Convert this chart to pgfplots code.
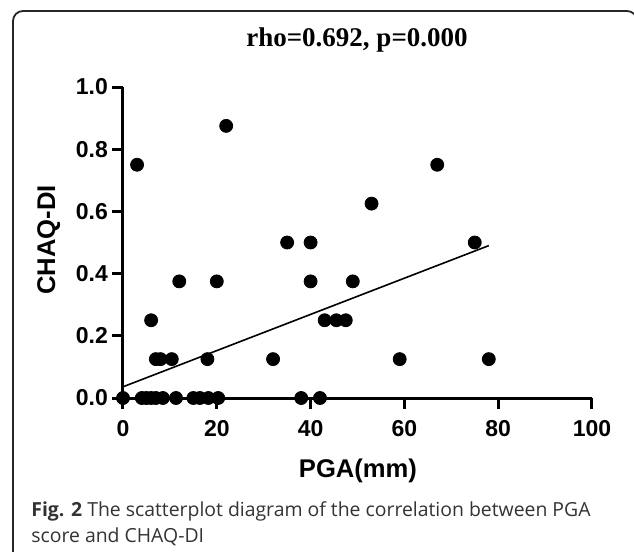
\documentclass[border=0pt]{standalone}
\usepackage{fontspec}
\setmainfont{Liberation Sans}
\newfontfamily\timesfont{Liberation Serif}
\newfontfamily\capfont{Open Sans}
\usepackage{pgfplots}
\pgfplotsset{compat=1.18}
\begin{document}
\begin{tikzpicture}
\path[use as bounding box] (0,0) rectangle (317pt,-276pt);
\draw[line width=0.9pt, black!85, rounded corners=5pt] (6.5pt,-290pt) -- (6.5pt,-5.5pt) -- (318.5pt,-5.5pt) -- (318.5pt,-290pt);
\begin{axis}[
  at={(61.5pt,-199pt)}, anchor=south west,
  scale only axis, width=234.5pt, height=155.5pt,
  xmin=0, xmax=100, ymin=0, ymax=1,
  axis x line*=bottom, axis y line*=left,
  x axis line style={line width=1.5pt, -}, y axis line style={line width=1.5pt, -},
  major tick style={draw=black, line width=1.5pt},
  tick align=outside, major tick length=5pt,
  xtick={0,20,40,60,80,100},
  ytick={0,0.2,0.4,0.6,0.8,1.0},
  /pgf/number format/assume math mode=true,
  xticklabel style={yshift=-2.5pt, font=\bfseries\fontsize{11.5}{13}\selectfont, /pgf/number format/.cd, fixed, precision=0},
  yticklabel style={xshift=1pt, font=\bfseries\fontsize{11.5}{13}\selectfont, /pgf/number format/.cd, fixed, fixed zerofill, precision=1},
  clip=false,
]
\addplot[only marks, mark=*, mark size=3.25pt, black] coordinates {
(0,0) (3,0.75) (22,0.875) (6,0.25)
(7,0.125) (8,0.125) (10.4,0.125) (18,0.125) (32,0.125) (59,0.125) (78,0.125)
(12,0.375) (20,0.375) (40,0.375) (49,0.375)
(35,0.5) (40,0.5) (75,0.5)
(53,0.625) (67,0.75)
(43,0.25) (45.5,0.25) (47.5,0.25)
(4,0) (5,0) (6,0) (7,0) (8.5,0) (11.3,0) (15,0) (16.4,0) (18.2,0) (20.3,0) (38,0) (42,0)
};
\addplot[black, line width=0.8pt] coordinates {(0,0.036) (78,0.49)};
\pgfplotsinvokeforeach{0,20,40,60,80,100}{\draw[line width=1.5pt] (axis cs:#1,0) -- ++(0,-5.5pt);}
\pgfplotsinvokeforeach{0,0.2,0.4,0.6,0.8,1}{\draw[line width=1.5pt] (axis cs:0,#1) -- ++(-5.5pt,0);}
\end{axis}
\node[anchor=base, font=\timesfont\bfseries\fontsize{13.5}{16}\selectfont] at (178.5pt,-23pt) {rho=0.692, p=0.000};
\node[anchor=base, font=\bfseries\fontsize{12.8}{15}\selectfont] at (179pt,-238.5pt) {PGA(mm)};
\node[anchor=base, rotate=90, font=\bfseries\fontsize{12.8}{15}\selectfont] at (27.5pt,-120pt) {CHAQ-DI};
\node[anchor=base west, inner sep=0pt, font=\capfont\fontsize{9.7}{13}\selectfont, text=black!80] at (15.5pt,-258pt) {\textbf{Fig. 2} The scatterplot diagram of the correlation between PGA};
\node[anchor=base west, inner sep=0pt, font=\capfont\fontsize{9.7}{13}\selectfont, text=black!80] at (15.5pt,-271pt) {score and CHAQ-DI};
\end{tikzpicture}
\end{document}
